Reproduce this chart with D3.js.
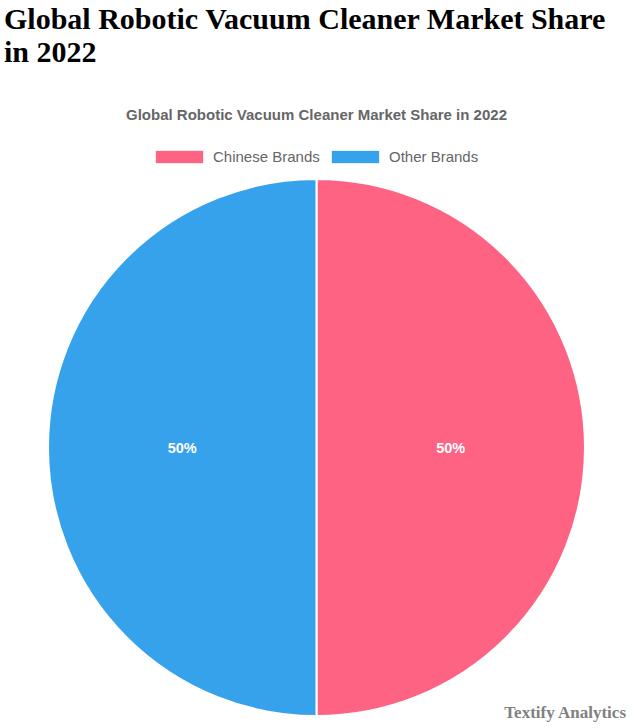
<!DOCTYPE html>
<html>
<head>
<meta charset="utf-8">
<script src="https://cdn.jsdelivr.net/npm/d3@7"></script>
<style>
  body { margin: 0; background: #fff; }
  h1 { font-family: "Liberation Serif", "Times New Roman", serif; font-size: 30px; font-weight: bold;
       margin: 0; padding: 2px 0 0 4px; line-height: 33px; color: #000; }
  #chart { position: absolute; left: 0; top: 0; }
</style>
</head>
<body>
<h1>Global Robotic Vacuum Cleaner Market Share<br>in 2022</h1>
<div id="chart"></div>
<script>
var categories = ["Chinese Brands", "Other Brands"]
var values = [50, 50]
var colors = ["#ff6384", "#36a2eb"]

var width = 634, height = 728
var cx = 316.5, cy = 447.5, radius = 268.5

var svg = d3.select("#chart").append("svg")
    .attr("width", width)
    .attr("height", height)

// título del gráfico
svg.append("text")
    .attr("x", cx).attr("y", 120)
    .attr("text-anchor", "middle")
    .style("font-family", "'Liberation Sans', Arial, sans-serif")
    .style("font-size", "15px").style("font-weight", "bold")
    .style("fill", "#666")
    .text("Global Robotic Vacuum Cleaner Market Share in 2022")

// leyenda
var legendX = [156, 332]
var legend = svg.append("g").selectAll("g")
    .data(categories).enter().append("g")
    .attr("transform", (d, i) => "translate(" + legendX[i] + ",151)")
legend.append("rect")
    .attr("width", 47).attr("height", 12)
    .attr("fill", (d, i) => colors[i])
    .attr("stroke", (d, i) => colors[i]).attr("stroke-opacity", 0.3)
legend.append("text")
    .attr("x", 57).attr("y", 11)
    .style("font-family", "'Liberation Sans', Arial, sans-serif")
    .style("font-size", "15px").style("fill", "#666")
    .text(d => d)

// tarta
var pie = d3.pie().sort(null)(values)
var arc = d3.arc().innerRadius(0).outerRadius(radius)
var labelArc = d3.arc().innerRadius(radius / 2).outerRadius(radius / 2)
var total = d3.sum(values)

var g = svg.append("g").attr("transform", "translate(" + cx + "," + cy + ")")
g.selectAll("path").data(pie).enter().append("path")
    .attr("d", arc)
    .attr("fill", (d, i) => colors[i])
    .attr("stroke", "#fff").attr("stroke-width", 2)

g.selectAll("text").data(pie).enter().append("text")
    .attr("transform", d => "translate(" + labelArc.centroid(d) + ")")
    .attr("text-anchor", "middle").attr("dy", "0.35em")
    .style("font-family", "'Liberation Sans', Arial, sans-serif")
    .style("font-size", "14.5px").style("font-weight", "bold")
    .style("fill", "#fff")
    .text(d => Math.round(d.value / total * 100) + "%")

// marca de agua
svg.append("text")
    .attr("x", 626).attr("y", 718)
    .attr("text-anchor", "end")
    .style("font-family", "'Liberation Serif', 'Times New Roman', serif")
    .style("font-size", "17px").style("font-weight", "bold")
    .style("fill", "#808080")
    .text("Textify Analytics")
</script>
</body>
</html>
